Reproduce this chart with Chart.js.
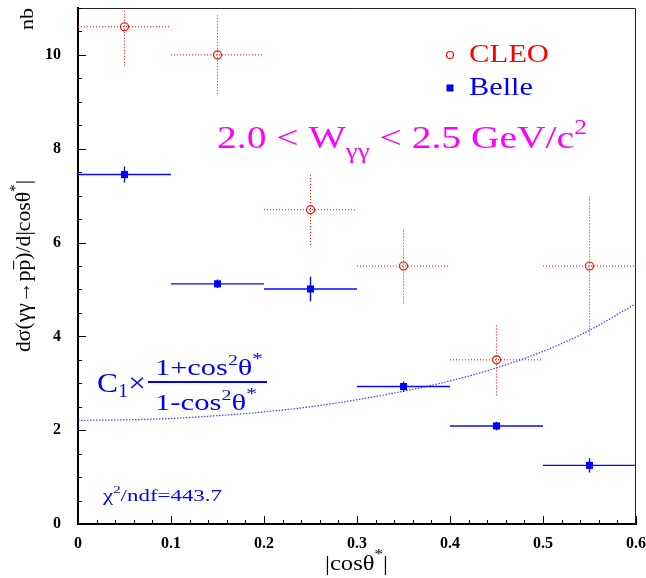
<!DOCTYPE html>
<html>
<head>
<meta charset="utf-8">
<script src="https://cdn.jsdelivr.net/npm/chart.js@4"></script>
<style>
  html, body { margin: 0; padding: 0; background: #fff; }
  canvas { display: block; }
</style>
</head>
<body>
<canvas id="xsec" width="646" height="578"></canvas>
<script>
// bins in |cos theta*|
const binEdges = [0, 0.1, 0.2, 0.3, 0.4, 0.5, 0.6];
const binCenters = [0.05, 0.15, 0.25, 0.35, 0.45, 0.55];

// CLEO points (nb)
const cleoY = [10.6, 10.0, 6.7, 5.5, 3.5, 5.5];
const cleoErr = [0.83, 0.84, 0.75, 0.8, 0.76, 1.48];

// Belle points (nb)
const belleY = [7.45, 5.12, 5.01, 2.93, 2.09, 1.25];
const belleErr = [0.17, 0.09, 0.26, 0.11, 0.09, 0.15];

// fitted curve
const fitX = [0, 0.05, 0.1, 0.15, 0.2, 0.25, 0.3, 0.35, 0.4, 0.45, 0.5, 0.55, 0.6];
const fitY = [2.21, 2.22, 2.25, 2.31, 2.39, 2.50, 2.65, 2.83, 3.05, 3.33, 3.68, 4.13, 4.70];

// axis ticks
const xTicks = [0, 0.1, 0.2, 0.3, 0.4, 0.5, 0.6];
const yTicks = [0, 2, 4, 6, 8, 10];

const SERIF = '"Liberation Serif", "DejaVu Serif", serif';

// horizontal bars (bin width) and vertical bars (error), with gaps between
function hBars(ys) {
    let out = [];
    ys.forEach(function (y, i) {
        out.push({x: binEdges[i], y: y}, {x: binEdges[i + 1], y: y}, {x: binCenters[i], y: null});
    });
    return out;
}
function vBars(ys, errs) {
    let out = [];
    ys.forEach(function (y, i) {
        out.push({x: binCenters[i], y: y - errs[i]}, {x: binCenters[i], y: y + errs[i]}, {x: binCenters[i], y: null});
    });
    return out;
}
function points(ys) {
    return ys.map(function (y, i) { return {x: binCenters[i], y: y}; });
}

// text with sub/superscripts, stretched to fit between two positions
function drawRich(ctx, runs, size, from, to, base, color, rotated) {
    ctx.save();
    ctx.fillStyle = color;
    ctx.strokeStyle = color;
    let total = 0;
    runs.forEach(function (r) {
        ctx.font = (size * (r.s || 1)) + 'px ' + SERIF;
        r.w = ctx.measureText(r.t).width;
        total += r.w;
    });
    const sx = Math.abs(to - from) / total;
    if (rotated) {
        ctx.translate(base, from);
        ctx.rotate(-Math.PI / 2);
    } else {
        ctx.translate(from, base);
    }
    ctx.scale(sx, 1);
    ctx.textBaseline = 'alphabetic';
    ctx.textAlign = 'left';
    let cx = 0;
    runs.forEach(function (r) {
        ctx.font = (size * (r.s || 1)) + 'px ' + SERIF;
        ctx.fillText(r.t, cx, (r.dy || 0) * size);
        if (r.over) {
            ctx.lineWidth = 1;
            ctx.beginPath();
            ctx.moveTo(cx + 1, -0.78 * size);
            ctx.lineTo(cx + r.w - 1, -0.78 * size);
            ctx.stroke();
        }
        cx += r.w;
    });
    ctx.restore();
}

function noPadding(s) {
    s.paddingTop = 0;
    s.paddingBottom = 0;
    s.paddingLeft = 0;
    s.paddingRight = 0;
}

const decorations = {
    id: 'decorations',
    afterDraw: function (chart) {
        const ctx = chart.ctx;
        const area = chart.chartArea;
        const xs = chart.scales.x;
        const ys = chart.scales.y;

        // frame
        ctx.save();
        ctx.strokeStyle = '#222';
        ctx.lineWidth = 1;
        ctx.beginPath();
        ctx.moveTo(area.left, area.top + 0.5);
        ctx.lineTo(area.right - 0.5, area.top + 0.5);
        ctx.lineTo(area.right - 0.5, area.bottom);
        ctx.stroke();

        // inward ticks
        ctx.strokeStyle = '#000';
        ctx.lineWidth = 1;
        ctx.beginPath();
        for (let v = 0; v <= 11.001; v += 0.5) {
            const py = Math.round(ys.getPixelForValue(v)) + 0.5;
            const len = (Math.abs(v % 2) < 1e-6) ? 8 : 4;
            ctx.moveTo(area.left, py);
            ctx.lineTo(area.left + len, py);
        }
        for (let k = 0; k <= 30; k++) {
            const px = Math.round(xs.getPixelForValue(k * 0.02)) + 0.5;
            const len = (k % 5 === 0) ? 8 : 4;
            ctx.moveTo(px, area.bottom);
            ctx.lineTo(px, area.bottom - len);
        }
        ctx.stroke();

        // legend
        ctx.strokeStyle = '#ff0000';
        ctx.lineWidth = 1.2;
        ctx.beginPath();
        ctx.arc(450, 55, 3.5, 0, Math.PI * 2);
        ctx.stroke();
        ctx.fillStyle = '#0000ff';
        ctx.fillRect(446.5, 84.5, 7, 7);
        ctx.restore();

        drawRich(ctx, [{t: 'CLEO'}], 25, 469, 549, 62, '#ff0000');
        drawRich(ctx, [{t: 'Belle'}], 25, 469, 533, 95, '#0000ff');

        // mass range
        drawRich(ctx, [
            {t: '2.0 < W'},
            {t: 'γγ', s: 0.68, dy: 0.3},
            {t: ' < 2.5 GeV/c'},
            {t: '2', s: 0.65, dy: -0.45}
        ], 32, 217, 587, 148, '#ff00ff');

        // fit function
        drawRich(ctx, [{t: 'C'}, {t: '1', s: 0.65, dy: 0.18}, {t: '×'}], 28, 97, 146, 392, '#0000ff');
        drawRich(ctx, [{t: '1+cos'}, {t: '2', s: 0.65, dy: -0.45}, {t: 'θ'}, {t: '*', s: 0.7, dy: -0.5}],
            23, 155, 263, 375, '#0000ff');
        drawRich(ctx, [{t: '1-cos'}, {t: '2', s: 0.65, dy: -0.45}, {t: 'θ'}, {t: '*', s: 0.7, dy: -0.5}],
            23, 155, 257, 410, '#0000ff');
        ctx.save();
        ctx.fillStyle = '#0000ff';
        ctx.fillRect(148, 381, 119, 2);
        ctx.restore();

        drawRich(ctx, [{t: 'χ'}, {t: '2', s: 0.65, dy: -0.45}, {t: '/ndf=443.7'}], 17, 103, 222, 501, '#0000ff');

        // axis titles
        drawRich(ctx, [{t: '|cosθ'}, {t: '*', s: 0.7, dy: -0.5}, {t: '|'}], 22, 325, 388, 570, '#000');
        drawRich(ctx, [{t: 'nb'}], 19, 30, 8, 33, '#000', true);
        drawRich(ctx, [
            {t: 'dσ(γγ→p'},
            {t: 'p', over: true},
            {t: ')/d|cosθ'},
            {t: '*', s: 0.7, dy: -0.5},
            {t: '|'}
        ], 21, 352, 180, 30, '#000', true);
    }
};

const ctxC = document.getElementById('xsec').getContext('2d');

new Chart(ctxC, {
    type: 'scatter',
    data: {
        datasets: [
            {
                label: 'CLEO',
                data: points(cleoY),
                pointStyle: 'circle',
                pointRadius: 4,
                borderColor: '#ff0000',
                backgroundColor: 'rgba(255,255,255,0)',
                borderWidth: 1.2,
                order: 0
            },
            {
                label: 'Belle',
                data: points(belleY),
                pointStyle: 'rect',
                pointRadius: 5,
                borderColor: '#0000ff',
                backgroundColor: '#0000ff',
                borderWidth: 0,
                order: 0
            },
            {
                data: hBars(cleoY),
                showLine: true, spanGaps: false, pointRadius: 0,
                borderColor: '#ff0000', borderWidth: 1, borderDash: [1, 2],
                order: 1
            },
            {
                data: vBars(cleoY, cleoErr),
                showLine: true, spanGaps: false, pointRadius: 0,
                borderColor: '#ff0000', borderWidth: 1, borderDash: [1, 2],
                order: 1
            },
            {
                data: hBars(belleY),
                showLine: true, spanGaps: false, pointRadius: 0,
                borderColor: '#0a0aff', borderWidth: 1.4,
                order: 1
            },
            {
                data: vBars(belleY, belleErr),
                showLine: true, spanGaps: false, pointRadius: 0,
                borderColor: '#0a0aff', borderWidth: 1.4,
                order: 1
            },
            {
                label: 'fit',
                data: fitX.map(function (x, i) { return {x: x, y: fitY[i]}; }),
                showLine: true, pointRadius: 0,
                borderColor: 'rgba(30,30,255,0.85)', borderWidth: 1.2, borderDash: [1.5, 1.5],
                cubicInterpolationMode: 'monotone',
                order: 2
            }
        ]
    },
    options: {
        responsive: false,
        animation: false,
        devicePixelRatio: 1,
        layout: {padding: {top: 8, right: 10, left: 0, bottom: 0}},
        plugins: {
            legend: {display: false},
            tooltip: {enabled: false}
        },
        scales: {
            x: {
                type: 'linear',
                min: 0,
                max: 0.6,
                afterFit: function (s) { s.height = 54; noPadding(s); },
                afterBuildTicks: function (s) { s.ticks = xTicks.map(function (v) { return {value: v}; }); },
                grid: {drawOnChartArea: false, drawTicks: false},
                border: {display: true, color: '#000', width: 2},
                ticks: {
                    padding: 10,
                    color: '#000',
                    font: {family: SERIF, size: 16, weight: 'bold'},
                    callback: function (v) { return v === 0 ? '0' : v.toFixed(1); }
                }
            },
            y: {
                type: 'linear',
                min: 0,
                max: 11,
                afterFit: function (s) { s.width = 78; noPadding(s); },
                afterBuildTicks: function (s) { s.ticks = yTicks.map(function (v) { return {value: v}; }); },
                grid: {drawOnChartArea: false, drawTicks: false},
                border: {display: true, color: '#000', width: 2},
                ticks: {
                    padding: 17,
                    color: '#000',
                    font: {family: SERIF, size: 16, weight: 'bold'},
                    callback: function (v) { return String(v); }
                }
            }
        }
    },
    plugins: [decorations]
});
</script>
</body>
</html>
